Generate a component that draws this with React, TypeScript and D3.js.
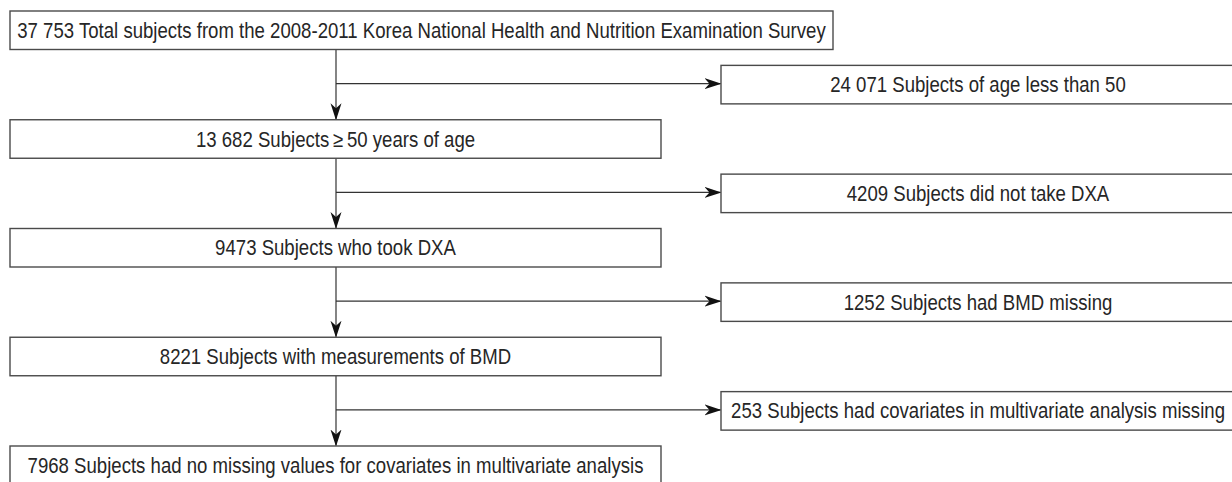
import * as d3 from 'd3';

// flow steps, top to bottom
const mainSteps = [
  '37 753 Total subjects from the 2008-2011 Korea National Health and Nutrition Examination Survey',
  '13 682 Subjects\u2009\u2265\u200950 years of age',
  '9473 Subjects who took DXA',
  '8221 Subjects with measurements of BMD',
  '7968 Subjects had no missing values for covariates in multivariate analysis',
];

// excluded at each step
const excludedSteps = [
  '24 071 Subjects of age less than 50',
  '4209 Subjects did not take DXA',
  '1252 Subjects had BMD missing',
  '253 Subjects had covariates in multivariate analysis missing',
];

const W = 1232;
const H = 482;
const boxH = 38.5;
const spineX = 336;
const FONT = '"Liberation Sans", Arial, sans-serif';
const FONT_SIZE = 21.5;
// no condensed face installed, so squeeze the regular one
const SQUEEZE = 0.865;

function Label({ x, y, text }: { x: number; y: number; text: string }) {
  return (
    <g transform={`translate(${x},${y}) scale(${SQUEEZE},1)`}>
      <text x={0} y={0} textAnchor='middle' fontFamily={FONT} fontSize={FONT_SIZE} fill='#262626'>
        {text}
      </text>
    </g>
  );
}

export default function App() {
  const rowY = d3.scaleLinear().domain([0, mainSteps.length - 1]).range([11, 446]);
  const leftX = d3.scaleLinear().domain([0, 1]).range([10, 661]);
  const rightX = d3.scaleLinear().domain([0, 1]).range([721, 1235]);
  const topRight = 833;

  const stroke = '#333';
  const boxStroke = '#4a4a4a';

  return (
    <div style={{ position: 'fixed', left: 0, top: 0, width: W, height: H, background: '#fff' }}>
      <svg width={W} height={H} style={{ display: 'block' }}>
        <defs>
          <marker id='arr' viewBox='0 0 17 12' refX='16' refY='6' markerWidth='17' markerHeight='12'
            markerUnits='userSpaceOnUse' orient='auto'>
            <path d='M0,0.5 L17,6 L0,11.5 L5,6 Z' fill='#111' />
          </marker>
        </defs>

        {/* vertical connectors */}
        {mainSteps.slice(1).map((_, i) => (
          <line key={`v${i}`} x1={spineX} x2={spineX} y1={rowY(i) + boxH} y2={rowY(i + 1) - 0.5}
            stroke={stroke} strokeWidth={1.2} markerEnd='url(#arr)' />
        ))}

        {/* side arrows */}
        {excludedSteps.map((_, i) => {
          const y = rowY(i + 0.5) + boxH / 2 - 1;
          return (
            <line key={`h${i}`} x1={spineX} x2={rightX(0) - 0.5} y1={y} y2={y}
              stroke={stroke} strokeWidth={1.2} markerEnd='url(#arr)' />
          );
        })}

        {/* main boxes */}
        {mainSteps.map((label, i) => {
          const x0 = leftX(0);
          const x1 = i === 0 ? topRight : leftX(1);
          const y = rowY(i);
          return (
            <g key={`m${i}`}>
              <rect x={x0} y={y} width={x1 - x0} height={boxH} fill='#fff' stroke={boxStroke} strokeWidth={1.4} />
              <Label x={(x0 + x1) / 2} y={y + boxH / 2 + 7.6} text={label} />
            </g>
          );
        })}

        {/* excluded boxes */}
        {excludedSteps.map((label, i) => {
          const x0 = rightX(0);
          const x1 = rightX(1);
          const y = rowY(i + 0.5);
          return (
            <g key={`e${i}`}>
              <rect x={x0} y={y} width={x1 - x0} height={boxH} fill='#fff' stroke={boxStroke} strokeWidth={1.4} />
              <Label x={(x0 + x1) / 2} y={y + boxH / 2 + 7.6} text={label} />
            </g>
          );
        })}
      </svg>
    </div>
  );
}
